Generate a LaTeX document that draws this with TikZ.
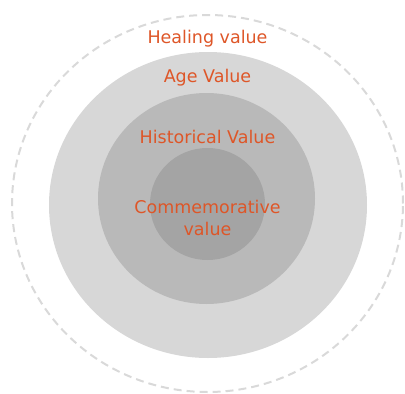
\documentclass[tikz,border=0pt]{standalone}
\usepackage{fontspec}
\setmainfont{DejaVu Sans}
\definecolor{ringA}{RGB}{215,215,215}
\definecolor{ringB}{RGB}{185,185,185}
\definecolor{ringC}{RGB}{164,164,164}
\definecolor{dashc}{RGB}{217,217,217}
\definecolor{lbl}{RGB}{222,86,40}
\tikzset{
  lab/.style={anchor=base, text=lbl, font=\fontsize{17.5pt}{22pt}\selectfont, inner sep=0pt, align=center},
  ring/.style={draw=none}
}
\begin{document}
\begin{tikzpicture}[x=1pt,y=1pt]
\useasboundingbox (0,0) rectangle (405,-394);
\draw[dashc, line width=2pt, dash pattern=on 8pt off 5pt] (207.5,-203.5) ellipse [x radius=195.5, y radius=188.5];
\fill[ringA] (208,-205) ellipse [x radius=159, y radius=153];
\fill[ringB] (206.5,-198.5) ellipse [x radius=108.5, y radius=105.5];
\fill[ringC] (207.5,-204) ellipse [x radius=57.5, y radius=56];
\node[lab] (heal) at (207.5,-43) {Healing value};
\node[lab] (age) at (207.5,-82.5) {Age Value};
\node[lab] (hist) at (207.5,-143) {Historical Value};
\node[lab] (comm) at (207.5,-213) {Commemorative};
\node[lab] (commv) at (207.5,-235) {value};
\end{tikzpicture}
\end{document}
